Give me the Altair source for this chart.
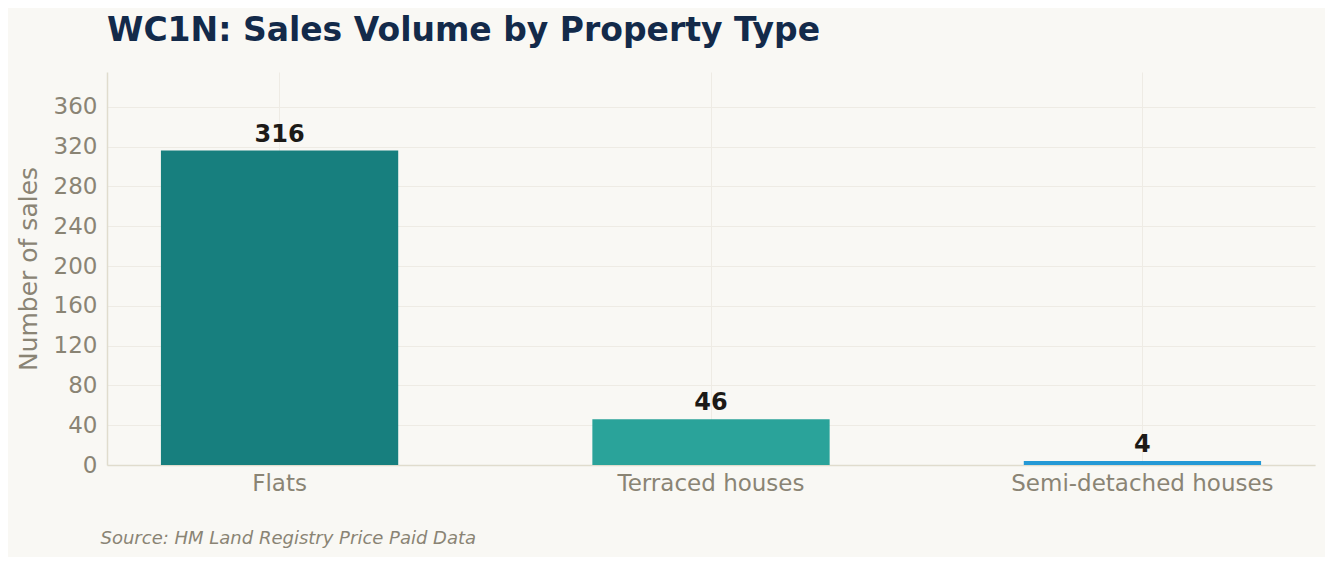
import altair as alt
import pandas as pd

categories = ["Flats", "Terraced houses", "Semi-detached houses"]
sales = [316, 46, 4]
colors = ["#177f7e", "#2aa39a", "#2499d6"]

df = pd.DataFrame({"type": categories, "sales": sales})

FONT = "DejaVu Sans"

x = alt.X(
    "type:N",
    sort=categories,
    scale=alt.Scale(paddingInner=0.45, paddingOuter=0.125),
    axis=alt.Axis(
        title="Source: HM Land Registry Price Paid Data",
        titleX=-7, titleY=78, titleAlign="left", titleAnchor="start",
        titleBaseline="alphabetic", titleFontStyle="italic",
        titleFontWeight="normal", titleFontSize=18, titleColor="#8a8474",
        labelAngle=0, labelFontSize=23, labelPadding=7, labelLimit=500,
        ticks=False, grid=True,
    ),
)

bars = alt.Chart(df).mark_bar().encode(
    x=x,
    y=alt.Y(
        "sales:Q",
        scale=alt.Scale(domain=[0, 395], nice=False),
        axis=alt.Axis(
            title="Number of sales", values=list(range(0, 400, 40)),
            labelFontSize=23, titleFontSize=25, titleFontWeight="normal",
            titlePadding=12, labelPadding=10, ticks=False,
        ),
    ),
    color=alt.Color("type:N", scale=alt.Scale(domain=categories, range=colors), legend=None),
)

labels = alt.Chart(df).mark_text(
    baseline="alphabetic", dy=-9, fontSize=24, fontWeight="bold", color="#1c1a17", font=FONT
).encode(
    x=alt.X("type:N", sort=categories),
    y="sales:Q",
    text="sales:Q",
)

chart = (bars + labels).properties(
    width=1208,
    height=393,
    autosize=alt.AutoSizeParams(type="none"),
    padding={"left": 99, "top": 64, "right": 10, "bottom": 92},
    background="#f9f8f4",
    title=alt.TitleParams(
        "WC1N: Sales Volume by Property Type",
        anchor="start", frame="group", baseline="alphabetic", offset=-2,
        fontSize=33, fontWeight="bold", color="#132a4a", font=FONT,
    ),
).configure_view(
    stroke=None, fill="#f9f8f4"
).configure_axis(
    labelFont=FONT, titleFont=FONT, labelColor="#8a8474", titleColor="#8a8474",
    domainColor="#e0dccd", domainWidth=1.5, gridColor="#eeebe4", gridWidth=1,
).configure_axisY(
    domain=True
)

chart.save("out.html", embed_options={"renderer": "svg", "actions": False})
